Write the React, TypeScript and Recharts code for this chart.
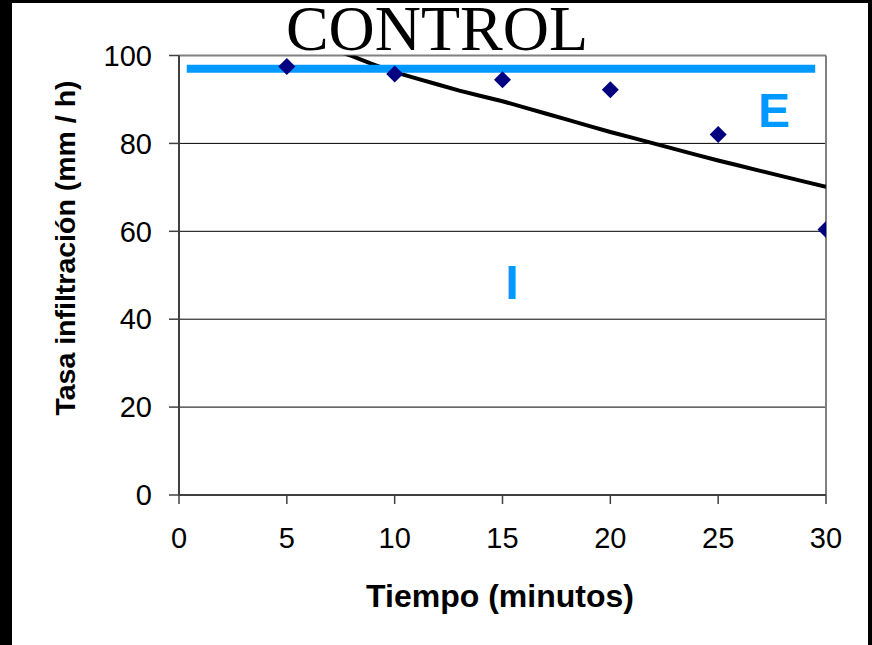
import React from "react";
import {
  ComposedChart,
  Line,
  Scatter,
  XAxis,
  YAxis,
  CartesianGrid,
  ReferenceLine,
} from "recharts";

// Observed infiltration points (diamonds)
const obsTime = [5, 10, 15, 20, 25, 30];
const obsRate = [97.5, 95.8, 94.5, 92.2, 82.0, 60.4];

// Fitted infiltration curve (black line)
const curveTime = [7, 8, 9, 10, 11, 12, 13, 14, 15, 16, 17, 18, 19, 20, 21, 22, 23, 24, 25, 26, 27, 28, 29, 30];
const curveRate = [101.6, 99.9, 98.0, 96.2, 94.8, 93.4, 92.0, 90.8, 89.6, 88.2, 86.8, 85.4, 84.0, 82.6, 81.3, 80.0, 78.7, 77.4, 76.1, 74.9, 73.7, 72.5, 71.3, 70.1];

// Rainfall rate (blue line)
const rainTime = [0.36, 29.5];
const rainRate = [97, 97];

const xTicks = [0, 5, 10, 15, 20, 25, 30];
const yTicks = [0, 20, 40, 60, 80, 100];
const gridValues = [20, 40, 60, 80];

const title = "CONTROL";
const xLabel = "Tiempo (minutos)";
const yLabel = "Tasa infiltración (mm / h)";
const labelE = "E";
const labelI = "I";

const obsData = obsTime.map((t, i) => ({ x: t, y: obsRate[i] }));
const curveData = curveTime.map((t, i) => ({ x: t, y: curveRate[i] }));
const rainData = rainTime.map((t, i) => ({ x: t, y: rainRate[i] }));

const Diamond = (props: any) => {
  const { cx, cy } = props;
  const h = 8.5;
  return (
    <polygon
      points={`${cx},${cy - h} ${cx + h},${cy} ${cx},${cy + h} ${cx - h},${cy}`}
      fill="#000080"
    />
  );
};

const W = 872;
const H = 645;

export default function App() {
  return (
    <div style={{ position: "fixed", left: 0, top: 0, width: W, height: H, background: "#000" }}>
      <div style={{ position: "absolute", left: 12, top: 3, width: 856, height: 642, background: "#fff" }} />
      <div style={{ position: "absolute", left: 0, top: 0 }}>
        <ComposedChart
          width={W}
          height={H}
          margin={{ top: 55.5, right: 46, bottom: 0, left: 0 }}
          style={{ fontFamily: "Arial, 'Liberation Sans', sans-serif" }}
        >
          <CartesianGrid horizontal vertical={false} horizontalValues={gridValues} stroke="#000" strokeWidth={1} />
          <XAxis
            type="number"
            dataKey="x"
            domain={[0, 30]}
            ticks={xTicks}
            allowDataOverflow
            height={150}
            tickSize={9}
            tickMargin={23}
            axisLine={{ stroke: "#404040", strokeWidth: 2 }}
            tickLine={{ stroke: "#404040", strokeWidth: 1.5 }}
            tick={{ fill: "#000", fontSize: 29, fontFamily: "Arial, 'Liberation Sans', sans-serif" }}
          />
          <YAxis
            type="number"
            dataKey="y"
            domain={[0, 100]}
            ticks={yTicks}
            allowDataOverflow
            width={179}
            tickSize={10}
            tickMargin={17}
            axisLine={{ stroke: "#404040", strokeWidth: 2 }}
            tickLine={{ stroke: "#404040", strokeWidth: 1.5 }}
            tick={{ fill: "#000", fontSize: 29, fontFamily: "Arial, 'Liberation Sans', sans-serif" }}
          />
          <ReferenceLine y={100} stroke="#808080" strokeWidth={2} />
          <ReferenceLine x={30} stroke="#808080" strokeWidth={2} />
          <Line
            data={curveData}
            dataKey="y"
            type="linear"
            stroke="#000"
            strokeWidth={4}
            dot={false}
            activeDot={false}
            isAnimationActive={false}
          />
          <Line
            data={rainData}
            dataKey="y"
            type="linear"
            stroke="#0099FF"
            strokeWidth={8}
            strokeLinecap="butt"
            dot={false}
            activeDot={false}
            isAnimationActive={false}
          />
          <Scatter data={obsData} dataKey="y" shape={<Diamond />} isAnimationActive={false} />
        </ComposedChart>
      </div>
      <svg
        width={W}
        height={H}
        style={{ position: "absolute", left: 0, top: 0, pointerEvents: "none" }}
      >
        <text
          x={437}
          y={50}
          textAnchor="middle"
          fontFamily="'Liberation Serif', 'Times New Roman', serif"
          fontSize={64}
          fill="#000"
        >
          {title}
        </text>
        <text
          x={500}
          y={607}
          textAnchor="middle"
          fontFamily="Arial, 'Liberation Sans', sans-serif"
          fontWeight="bold"
          fontSize={32}
          fill="#000"
        >
          {xLabel}
        </text>
        <text
          transform="translate(75,248) rotate(-90)"
          textAnchor="middle"
          fontFamily="Arial, 'Liberation Sans', sans-serif"
          fontWeight="bold"
          fontSize={28.5}
          fill="#000"
        >
          {yLabel}
        </text>
        <text
          x={774}
          y={127}
          textAnchor="middle"
          fontFamily="Arial, 'Liberation Sans', sans-serif"
          fontWeight="bold"
          fontSize={48}
          fill="#0099FF"
        >
          {labelE}
        </text>
        <text
          x={512}
          y={299}
          textAnchor="middle"
          fontFamily="Arial, 'Liberation Sans', sans-serif"
          fontWeight="bold"
          fontSize={48}
          fill="#0099FF"
        >
          {labelI}
        </text>
      </svg>
    </div>
  );
}
